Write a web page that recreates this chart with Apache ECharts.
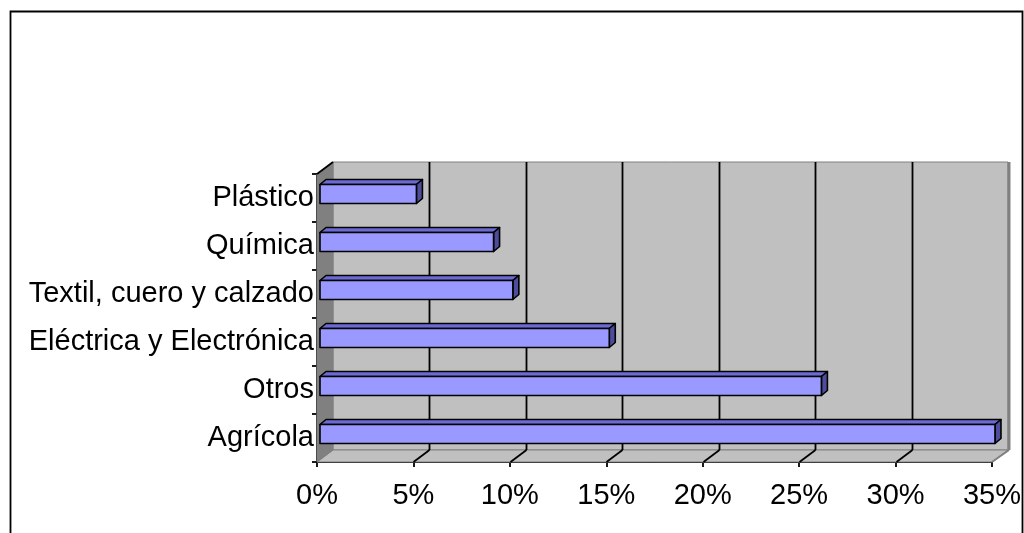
<!DOCTYPE html>
<html>
<head>
<meta charset="utf-8">
<script src="https://cdn.jsdelivr.net/npm/echarts@6/dist/echarts.min.js"></script>
<style>
html,body{margin:0;padding:0;background:#fff;}
#c{width:1024px;height:533px;}
</style>
</head>
<body>
<div id="c"></div>
<script>
const categories = ['Agrícola', 'Otros', 'Eléctrica y Electrónica', 'Textil, cuero y calzado', 'Química', 'Plástico'];
const values = [35, 26, 15, 10, 9, 5];
const xTicks = [0, 5, 10, 15, 20, 25, 30, 35];

const FONT = "'Liberation Sans', Arial, sans-serif";
const DX = 16, DY = -12;          // wall depth
const BOFF_X = 3, BOFF_Y = -4;    // bar offset into depth
const BDX = 6, BDY = -5;          // bar depth
const BAR_H = 19;

const chart = echarts.init(document.getElementById('c'), null, {renderer: 'canvas'});

function renderWalls(params, api) {
  const cs = params.coordSys;
  const x0 = cs.x, y0 = cs.y, w = cs.width, h = cs.height;
  const yb = y0 + h;
  const children = [];
  children.push({type: 'rect', shape: {x: x0 + DX, y: y0 + DY, width: w, height: h},
    style: {fill: '#c0c0c0', stroke: '#808080', lineWidth: 1}});
  children.push({type: 'polygon', shape: {points: [[x0, yb], [x0 + w, yb], [x0 + w + DX, yb + DY], [x0 + DX, yb + DY]]},
    style: {fill: '#c0c0c0', stroke: '#808080', lineWidth: 1}});
  children.push({type: 'polygon', shape: {points: [[x0, yb], [x0, y0], [x0 + DX, y0 + DY], [x0 + DX, yb + DY]]},
    style: {fill: '#808080', stroke: '#808080', lineWidth: 1}});
  children.push({type: 'line', shape: {x1: x0 + w + DX + 1, y1: y0 + DY, x2: x0 + w + DX + 1, y2: yb + DY},
    style: {stroke: '#808080', lineWidth: 3}});
  children.push({type: 'line', shape: {x1: x0 + w, y1: yb, x2: x0 + w + DX + 1, y2: yb + DY},
    style: {stroke: '#808080', lineWidth: 2}});
  xTicks.forEach(function (t) {
    if (t === 0 || t === xTicks[xTicks.length - 1]) return;
    const p = api.coord([t, 0]);
    const px = Math.round(p[0]) + 0.5;
    children.push({type: 'line', shape: {x1: px + DX, y1: y0 + DY, x2: px + DX, y2: yb + DY},
      style: {stroke: '#000', lineWidth: 1.8}});
    children.push({type: 'line', shape: {x1: px, y1: yb, x2: px + DX, y2: yb + DY},
      style: {stroke: '#000', lineWidth: 1.8}});
  });
  children.push({type: 'line', shape: {x1: x0, y1: y0, x2: x0 + DX, y2: y0 + DY},
    style: {stroke: '#000', lineWidth: 1.8}});
  return {type: 'group', children: children};
}

function renderBar(params, api) {
  const idx = api.value(1);
  const s = api.coord([0, idx]);
  const e = api.coord([api.value(0), idx]);
  const x = s[0] + BOFF_X;
  const w = e[0] - s[0];
  const y = s[1] + BOFF_Y - BAR_H / 2;
  const h = BAR_H;
  const st = {stroke: '#000', lineWidth: 1.6, lineJoin: 'round'};
  return {type: 'group', children: [
    {type: 'polygon', shape: {points: [[x, y], [x + w, y], [x + w + BDX, y + BDY], [x + BDX, y + BDY]]},
      style: Object.assign({fill: '#6b6bd0'}, st)},
    {type: 'polygon', shape: {points: [[x + w, y], [x + w + BDX, y + BDY], [x + w + BDX, y + h + BDY], [x + w, y + h]]},
      style: Object.assign({fill: '#4d4d9c'}, st)},
    {type: 'rect', shape: {x: x, y: y, width: w, height: h},
      style: Object.assign({fill: '#9999ff'}, st)}
  ]};
}

const option = {
  animation: false,
  backgroundColor: '#fff',
  grid: {left: 317, right: 27, top: 174, bottom: 71, containLabel: false},
  xAxis: {
    type: 'value', min: 0, max: 35, interval: 5,
    axisLine: {show: true, lineStyle: {color: '#000', width: 1.8}},
    axisTick: {show: true, length: 5, lineStyle: {color: '#000', width: 1.8}},
    splitLine: {show: false},
    axisLabel: {formatter: '{value}%', color: '#000', fontFamily: FONT, fontSize: 29, margin: 19}
  },
  yAxis: {
    type: 'category', data: categories,
    axisLine: {show: true, lineStyle: {color: '#000', width: 1.8}},
    axisTick: {show: true, length: 5, lineStyle: {color: '#000', width: 1.8}},
    splitLine: {show: false},
    axisLabel: {color: '#000', fontFamily: FONT, fontSize: 29, margin: 3}
  },
  graphic: [{
    type: 'rect', shape: {x: 10.5, y: 11.5, width: 1012, height: 600},
    style: {fill: 'none', stroke: '#000', lineWidth: 1.8}, z: 100
  }],
  series: [
    {type: 'custom', name: 'walls', renderItem: renderWalls, data: [[0, 0]], z: 1, silent: true},
    {type: 'custom', name: 'bars', renderItem: renderBar,
      data: values.map(function (v, i) { return [v, i]; }), z: 3}
  ]
};
chart.setOption(option);
</script>
</body>
</html>
